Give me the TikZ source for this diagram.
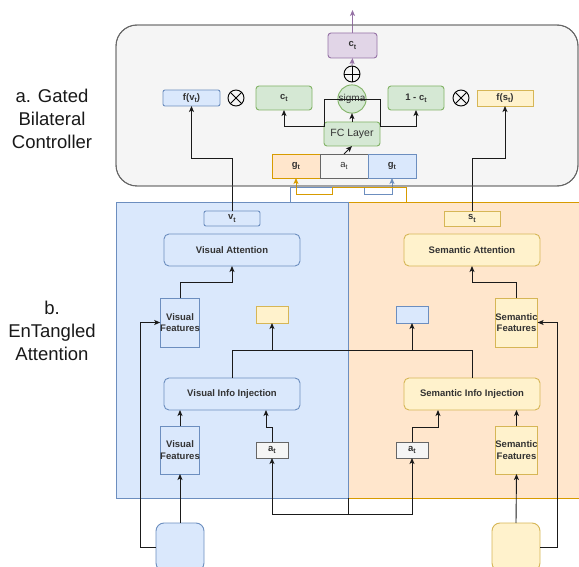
\documentclass[tikz,border=0pt]{standalone}
\usepackage{fontspec}
\setmainfont{Liberation Sans}
\usetikzlibrary{arrows.meta}

\definecolor{bFill}{HTML}{DAE8FC}
\definecolor{bLine}{HTML}{6C8EBF}
\definecolor{yFill}{HTML}{FFF2CC}
\definecolor{yLine}{HTML}{D6B656}
\definecolor{oFill}{HTML}{FFE6CC}
\definecolor{oLine}{HTML}{D79B00}
\definecolor{gFill}{HTML}{D5E8D4}
\definecolor{gLine}{HTML}{82B366}
\definecolor{pFill}{HTML}{E1D5E7}
\definecolor{pLine}{HTML}{9673A6}
\definecolor{grFill}{HTML}{F5F5F5}
\definecolor{grLine}{HTML}{666666}
\definecolor{txt}{HTML}{333333}
\definecolor{wire}{HTML}{1A1A1A}

% subscript set at a fixed size, a little below the baseline
\newcommand{\tsub}[1]{\raisebox{-0.45ex}{\fontsize{7}{7}\selectfont #1}}

\tikzset{
  box/.style={draw, line width=0.9pt, inner sep=0pt, outer sep=0pt, text=txt,
    font=\bfseries\fontsize{9.5}{11.5}\selectfont, align=center},
  bluebox/.style={box, fill=bFill, draw=bLine},
  yellowbox/.style={box, fill=yFill, draw=yLine},
  orangebox/.style={box, fill=oFill, draw=oLine},
  greenbox/.style={box, fill=gFill, draw=gLine},
  purplebox/.style={box, fill=pFill, draw=pLine},
  graybox/.style={box, fill=grFill, draw=grLine},
  plainfont/.style={font=\fontsize{10.5}{12.5}\selectfont},
  conn/.style={line width=0.9pt, draw=wire},
  arr/.style={conn, -{Stealth[length=6pt,width=5pt,inset=1.5pt]}},
  opcirc/.style={circle, draw=black, line width=0.9pt, minimum size=16pt, inner sep=0pt},
  sidelabel/.style={align=center, text=black!90, font=\fontsize{18.5}{23}\selectfont},
  ctrlframe/.style={line width=0.9pt, draw=grLine, rounded corners=21pt},
}

\begin{document}
\begin{tikzpicture}[x=1pt,y=-1pt]
\useasboundingbox (0,0) rectangle (579,567);

% ---------- containers ----------
\draw[ctrlframe, fill=grFill] (116,25) rectangle (578,186);
\node[draw=oLine, fill=oFill, line width=0.9pt, minimum width=234pt, minimum height=296pt, inner sep=0pt, outer sep=0pt] (spanel) at (465,350) {};
\node[draw=bLine, fill=bFill, line width=0.9pt, minimum width=232pt, minimum height=296pt, inner sep=0pt, outer sep=0pt] (vpanel) at (232,350) {};

% ---------- side labels ----------
\node[sidelabel] (lblA) at (52,119) {a. Gated\\Bilateral\\Controller};
\node[sidelabel] (lblB) at (52,331) {b.\\EnTangled\\Attention};

% ---------- gated bilateral controller ----------
\node[purplebox, rounded corners=3pt, minimum width=49pt, minimum height=25pt] (cout) at (352.5,45.5) {c\tsub{t}};
\node[opcirc] (plus) at (352,74) {};
\draw[line width=0.9pt] (plus.north) -- (plus.south) (plus.west) -- (plus.east);

\node[bluebox, rounded corners=2pt, minimum width=57pt, minimum height=16pt] (fv) at (191.5,98) {f(v\tsub{t})};
\node[opcirc] (mulL) at (236,98) {};
\draw[line width=0.9pt] (mulL.north west) -- (mulL.south east) (mulL.north east) -- (mulL.south west);
\node[greenbox, rounded corners=3pt, minimum width=56pt, minimum height=24pt] (cg) at (284,98) {c\tsub{t}};
\node[greenbox, circle, minimum size=26pt, font=\fontsize{10}{12}\selectfont] (sig) at (352,99) {sigma};
\node[greenbox, rounded corners=3pt, minimum width=56pt, minimum height=24pt] (oneminus) at (416,98) {1 - c\tsub{t}};
\node[opcirc] (mulR) at (461,98) {};
\draw[line width=0.9pt] (mulR.north west) -- (mulR.south east) (mulR.north east) -- (mulR.south west);
\node[yellowbox, minimum width=56pt, minimum height=16pt] (fs) at (505,98) {f(s\tsub{t})};

\node[greenbox, rounded corners=3pt, minimum width=56pt, minimum height=24pt, plainfont] (fc) at (352,134) {FC Layer};

\node[orangebox, minimum width=48pt, minimum height=24pt] (gL) at (296,166) {g\tsub{t}};
\node[graybox, minimum width=48pt, minimum height=24pt, font=\fontsize{9.5}{11.5}\selectfont] (atop) at (344,166) {a\tsub{t}};
\node[bluebox, minimum width=48pt, minimum height=24pt] (gR) at (392,166) {g\tsub{t}};

% ---------- entangled attention ----------
\node[bluebox, rounded corners=2pt, minimum width=56pt, minimum height=15pt] (vt) at (232,218.5) {v\tsub{t}};
\node[yellowbox, minimum width=56pt, minimum height=15pt] (st) at (472,218.5) {s\tsub{t}};

\node[bluebox, rounded corners=5pt, minimum width=136pt, minimum height=32pt] (va) at (232,250) {Visual Attention};
\node[yellowbox, rounded corners=5pt, minimum width=136pt, minimum height=32pt] (sa) at (472,250) {Semantic Attention};

\node[bluebox, minimum width=33pt, minimum height=49pt] (vf1) at (180,322.5) {Visual\\Features};
\node[yellowbox, minimum width=33pt, minimum height=49pt] (sf1) at (516.5,322.5) {Semantic\\Features};
\node[yellowbox, minimum width=32pt, minimum height=17pt] (ybox) at (272,314.5) {};
\node[bluebox, minimum width=32pt, minimum height=17pt] (bbox) at (412,314.5) {};

\node[bluebox, rounded corners=5pt, minimum width=136pt, minimum height=32pt] (vii) at (232,394) {Visual Info Injection};
\node[yellowbox, rounded corners=5pt, minimum width=136pt, minimum height=32pt] (sii) at (472,394) {Semantic Info Injection};

\node[bluebox, minimum width=33pt, minimum height=48pt] (vf2) at (180,450) {Visual\\Features};
\node[yellowbox, minimum width=33pt, minimum height=48pt] (sf2) at (516.5,450) {Semantic\\Features};
\node[graybox, minimum width=32pt, minimum height=16pt] (at1) at (272,450) {a\tsub{t}};
\node[graybox, minimum width=32pt, minimum height=16pt] (at2) at (412,450) {a\tsub{t}};

\node[bluebox, rounded corners=8pt, minimum width=48pt, minimum height=48pt] (inV) at (180,547) {};
\node[yellowbox, rounded corners=8pt, minimum width=48pt, minimum height=48pt] (inS) at (516,547) {};

% ---------- connectors: controller ----------
\draw[arr, draw=pLine] (cout.north) -- ++(0,-23) coordinate (outTip);
\draw[arr, draw=pLine] (plus.north) -- (cout.south);
\draw[arr] (sig.center) -- (fc.west |- sig.center) -- ([yshift=-4pt]fc.north west) -| (cg.south);
\draw[arr] (sig.center) -- (fc.east |- sig.center) -- ([yshift=-4pt]fc.north east) -| (oneminus.south);
\draw[arr] (fc.north) -- (sig.south);
\draw[arr] (atop.north) -- (fc.south);

\draw[arr] (vt.north) -- ++(0,-53) -| (fv.south);
\draw[arr] (st.north) -- ++(0,-53) -| (fs.south);

% gate feedback into the g cells
\draw[arr, draw=bLine] ([xshift=174pt]vpanel.north west) -- ++(0,-15) -- ++(74,0) -- ++(0,7) -| (gR.south);
\draw[arr, draw=oLine] ([xshift=58pt]spanel.north west) -- ++(0,-15) -- ++(-74,0) -- ++(0,7) -| (gL.south);
% the controller frame runs over the shared gate bus
\draw[ctrlframe] (116,25) rectangle (578,186);

% ---------- connectors: attention ----------
\draw[arr] (vf1.north) -- ++(0,-16) -| (va.south);
\draw[arr] (sf1.north) -- ++(0,-16) -| (sa.south);

\coordinate (bus) at (0,350);
\draw[conn] (vii.north) -- (vii.north |- bus) -- (sii.north |- bus) -- (sii.north);
\draw[arr] (ybox.south |- bus) -- (ybox.south);
\draw[arr] (bbox.south |- bus) -- (bbox.south);

\draw[arr] (vf2.north) -- (vf2.north |- vii.south);
\draw[arr] (sf2.north) -- (sf2.north |- sii.south);
\draw[arr] (at1.north) -- ++(0,-15) -| ([xshift=34pt]vii.south);
\draw[arr] (at2.north) -- ++(0,-15) -| ([xshift=-34pt]sii.south);

\draw[arr] (vpanel.south east) -- ++(0,16) -| (at1.south);
\draw[arr] (vpanel.south east) -- ++(0,16) -| (at2.south);

\draw[arr] (inV.north) -- (vf2.south);
\draw[arr] (inS.north) -- (sf2.south);
\draw[arr] (inV.west) -- ++(-16,0) |- (vf1.west);
\draw[arr] (inS.east) -- ++(17,0) |- (sf1.east);
\end{tikzpicture}
\end{document}
